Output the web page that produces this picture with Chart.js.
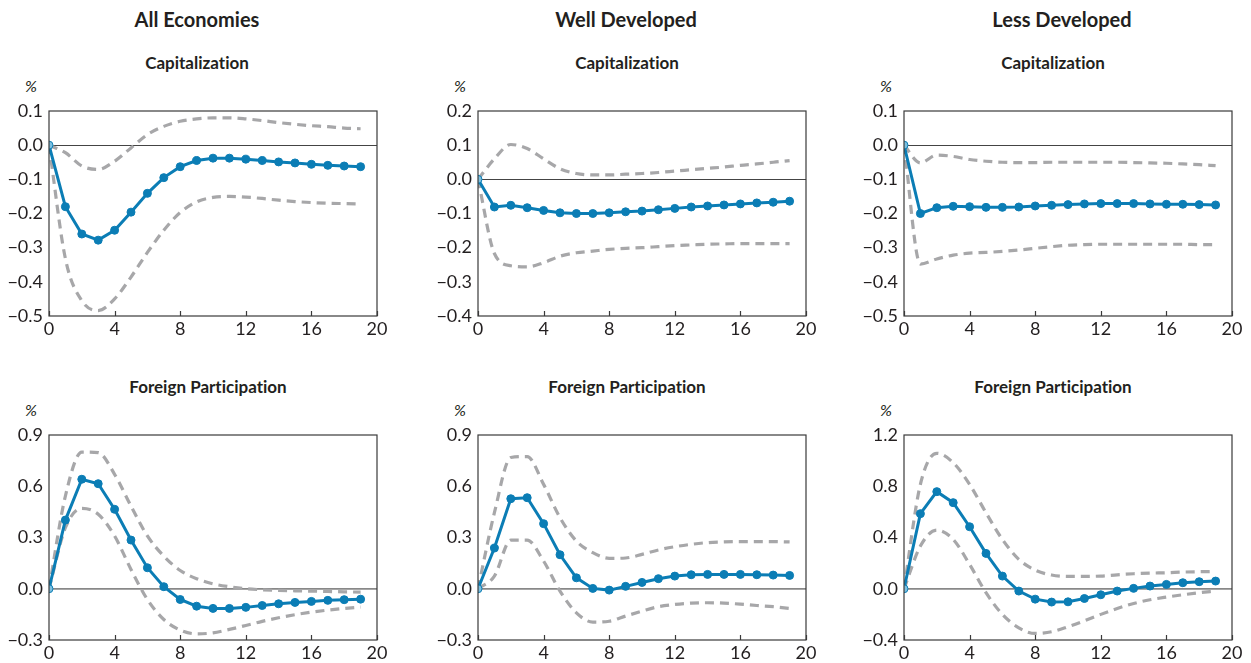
<!DOCTYPE html>
<html>
<head>
<meta charset="utf-8">
<script src="https://cdn.jsdelivr.net/npm/chart.js@4/dist/chart.umd.min.js"></script>
<style>
  body { margin: 0; background: #fff; width: 1251px; height: 663px; position: relative; overflow: hidden; font-family: Lato, "Open Sans", sans-serif; color: #231f20; font-variant-ligatures: none; }
  .lbl { position: absolute; white-space: nowrap; transform: translate(-50%, -50%); font-weight: bold; }
  .col { font-size: 20px; }
  .sub { font-size: 17px; }
  .pct { font-size: 16px; font-style: italic; font-weight: normal; }
  canvas { position: absolute; }
</style>
</head>
<body>
<script>
// horizons (quarters after shock)
const horizons = [0,1,2,3,4,5,6,7,8,9,10,11,12,13,14,15,16,17,18,19];
const xTicks = [0, 4, 8, 12, 16, 20];

const columnTitles = ["All Economies", "Well Developed", "Less Developed"];
const rowTitles = ["Capitalization", "Foreign Participation"];

// Capitalization
const capAllMid = [0,-0.180,-0.260,-0.278,-0.249,-0.196,-0.141,-0.095,-0.063,-0.045,-0.038,-0.038,-0.041,-0.045,-0.049,-0.052,-0.056,-0.059,-0.061,-0.063];
const capAllUp  = [0,-0.022,-0.061,-0.071,-0.047,-0.008,0.031,0.055,0.070,0.077,0.080,0.080,0.077,0.072,0.066,0.061,0.057,0.054,0.050,0.048];
const capAllLo  = [0,-0.332,-0.455,-0.484,-0.450,-0.386,-0.314,-0.249,-0.197,-0.166,-0.153,-0.150,-0.152,-0.156,-0.161,-0.165,-0.168,-0.170,-0.171,-0.172];

const capWellMid = [0,-0.081,-0.076,-0.083,-0.091,-0.098,-0.100,-0.100,-0.098,-0.095,-0.093,-0.089,-0.085,-0.081,-0.078,-0.075,-0.072,-0.069,-0.067,-0.064];
const capWellUp  = [0,0.060,0.102,0.090,0.060,0.031,0.017,0.013,0.013,0.015,0.017,0.020,0.024,0.028,0.032,0.036,0.041,0.045,0.050,0.055];
const capWellLo  = [0,-0.217,-0.253,-0.256,-0.244,-0.225,-0.215,-0.210,-0.205,-0.202,-0.200,-0.197,-0.194,-0.192,-0.190,-0.189,-0.188,-0.188,-0.188,-0.188];

const capLessMid = [0,-0.200,-0.183,-0.179,-0.180,-0.182,-0.182,-0.181,-0.178,-0.176,-0.174,-0.172,-0.171,-0.171,-0.171,-0.172,-0.173,-0.173,-0.174,-0.175];
const capLessUp  = [0,-0.052,-0.029,-0.033,-0.042,-0.047,-0.050,-0.051,-0.051,-0.050,-0.050,-0.050,-0.050,-0.050,-0.051,-0.052,-0.053,-0.055,-0.057,-0.060];
const capLessLo  = [0,-0.348,-0.333,-0.322,-0.316,-0.314,-0.311,-0.307,-0.302,-0.297,-0.293,-0.291,-0.290,-0.290,-0.290,-0.290,-0.290,-0.290,-0.291,-0.291];

// Foreign participation
const forAllMid = [0,0.402,0.641,0.615,0.465,0.285,0.123,0.012,-0.063,-0.102,-0.115,-0.115,-0.109,-0.098,-0.088,-0.080,-0.074,-0.068,-0.064,-0.061];
const forAllUp  = [0,0.543,0.800,0.797,0.670,0.484,0.309,0.191,0.107,0.059,0.029,0.012,0.000,-0.006,-0.010,-0.012,-0.014,-0.016,-0.018,-0.020];
const forAllLo  = [0,0.357,0.471,0.436,0.309,0.113,-0.063,-0.180,-0.242,-0.264,-0.258,-0.238,-0.215,-0.191,-0.170,-0.152,-0.137,-0.125,-0.115,-0.107];

const forWellMid = [0,0.238,0.527,0.533,0.381,0.199,0.064,0.002,-0.008,0.014,0.037,0.059,0.074,0.082,0.084,0.084,0.084,0.082,0.080,0.078];
const forWellUp  = [0,0.445,0.768,0.774,0.611,0.416,0.279,0.211,0.178,0.180,0.201,0.227,0.246,0.260,0.270,0.274,0.276,0.276,0.276,0.274];
const forWellLo  = [0,0.074,0.285,0.285,0.162,-0.014,-0.141,-0.195,-0.190,-0.160,-0.131,-0.105,-0.092,-0.084,-0.082,-0.084,-0.090,-0.098,-0.105,-0.115];

const forLessMid = [0,0.586,0.758,0.672,0.484,0.276,0.099,-0.018,-0.081,-0.104,-0.102,-0.076,-0.047,-0.018,0.003,0.021,0.034,0.047,0.055,0.060];
const forLessUp  = [0,0.815,1.057,0.984,0.815,0.593,0.385,0.229,0.146,0.107,0.096,0.096,0.099,0.109,0.117,0.122,0.125,0.130,0.133,0.135];
const forLessLo  = [0,0.333,0.458,0.385,0.190,-0.031,-0.200,-0.305,-0.349,-0.336,-0.297,-0.250,-0.200,-0.154,-0.115,-0.086,-0.065,-0.047,-0.031,-0.018];

// y-axis ranges [min, max, step]
const yRanges = [
  [[-0.5, 0.1, 0.1], [-0.4, 0.2, 0.1], [-0.5, 0.1, 0.1]],
  [[-0.3, 0.9, 0.3], [-0.3, 0.9, 0.3], [-0.4, 1.2, 0.4]]
];

const panels = [
  [[capAllMid, capAllUp, capAllLo], [capWellMid, capWellUp, capWellLo], [capLessMid, capLessUp, capLessLo]],
  [[forAllMid, forAllUp, forAllLo], [forWellMid, forWellUp, forWellLo], [forLessMid, forLessUp, forLessLo]]
];

const BLUE = "#0b7db5";
const GREY = "#a7a7a9";
const TEXT = "#231f20";

// layout (plot-area pixels)
const plotLeft = [49, 478, 904];
const plotTop = [111, 435];
const plotW = 328, plotH = 205;
const colTitleX = [197, 626, 1062];
const subTitleX = [[197, 627, 1053], [208, 627, 1053]];
const subTitleY = [62, 386];
const PAD_TOP = 12, X_AXIS_H = 28;

function addLabel(text, cls, x, y) {
  const d = document.createElement("div");
  d.className = "lbl " + cls;
  d.textContent = text;
  d.style.left = x + "px";
  d.style.top = y + "px";
  document.body.appendChild(d);
}

function fmt(v) {
  const s = Math.abs(v).toFixed(1);
  return (v < -1e-9 ? "\u2212" : "") + s;
}

const framePlugin = {
  id: "frame",
  afterDraw(chart) {
    const { ctx, chartArea: a, scales } = chart;
    ctx.save();
    ctx.strokeStyle = "#3a3a3a";
    ctx.lineWidth = 1.2;
    ctx.strokeRect(a.left, a.top, a.right - a.left, a.bottom - a.top);
    // small inward ticks on the x axis
    xTicks.forEach(t => {
      const px = Math.round(scales.x.getPixelForValue(t)) + 0.5;
      ctx.beginPath();
      ctx.moveTo(px, a.bottom);
      ctx.lineTo(px, a.bottom - 5);
      ctx.stroke();
    });
    ctx.restore();
  }
};

columnTitles.forEach((t, c) => addLabel(t, "col", colTitleX[c], 19));

for (let r = 0; r < 2; r++) {
  for (let c = 0; c < 3; c++) {
    addLabel(rowTitles[r], "sub", subTitleX[r][c], subTitleY[r]);
    addLabel("%", "pct", plotLeft[c] - 18, plotTop[r] - 26);

    const cv = document.createElement("canvas");
    const cw = plotW + 49 + 19, ch = plotH + PAD_TOP + X_AXIS_H;
    cv.width = cw; cv.height = ch;
    cv.style.left = (plotLeft[c] - 49) + "px";
    cv.style.top = (plotTop[r] - PAD_TOP) + "px";
    document.body.appendChild(cv);

    const [mid, up, lo] = panels[r][c];
    const [ymin, ymax, ystep] = yRanges[r][c];
    const pts = arr => horizons.map((h, i) => ({ x: h, y: arr[i] }));
    const band = arr => ({
      data: pts(arr), borderColor: GREY, borderWidth: 3.2, borderDash: [9, 6],
      pointRadius: 0, cubicInterpolationMode: "monotone", fill: false
    });

    new Chart(cv.getContext("2d"), {
      type: "line",
      data: {
        datasets: [
          {
            data: pts(mid), borderColor: BLUE, borderWidth: 3, tension: 0,
            pointRadius: 4, pointBorderWidth: 1,
            pointBackgroundColor: ctx => ctx.dataIndex === 0 ? "#7cc0e0" : BLUE,
            pointBorderColor: BLUE
          },
          band(up),
          band(lo)
        ]
      },
      options: {
        responsive: false,
        animation: false,
        devicePixelRatio: 1,
        layout: { padding: { top: PAD_TOP, right: 19, left: 0, bottom: 0 } },
        plugins: { legend: { display: false }, tooltip: { enabled: false } },
        scales: {
          x: {
            type: "linear", min: 0, max: 20,
            afterFit: s => { s.height = X_AXIS_H; s.paddingLeft = 0; s.paddingRight = 0; },
            afterBuildTicks: s => { s.ticks = xTicks.map(v => ({ value: v })); },
            ticks: { padding: 2, color: TEXT, font: { family: "Lato", size: 18 }, maxRotation: 0 },
            grid: { display: false, drawTicks: false },
            border: { display: false }
          },
          y: {
            min: ymin, max: ymax,
            afterFit: s => { s.width = 49; s.paddingTop = 0; s.paddingBottom = 0; },
            afterBuildTicks: s => {
              const t = [];
              for (let v = ymin; v <= ymax + 1e-9; v += ystep) t.push({ value: Math.round(v * 10) / 10 });
              s.ticks = t;
            },
            ticks: { padding: 6, color: TEXT, font: { family: "Lato", size: 18 }, callback: v => fmt(v) },
            grid: {
              drawTicks: false,
              color: ctx => (ctx.tick && Math.abs(ctx.tick.value) < 1e-9) ? (r === 0 ? "#444" : "#888") : "transparent",
              lineWidth: r === 0 ? 1 : 1.8
            },
            border: { display: false }
          }
        }
      },
      plugins: [framePlugin]
    });
  }
}
</script>
</body>
</html>
